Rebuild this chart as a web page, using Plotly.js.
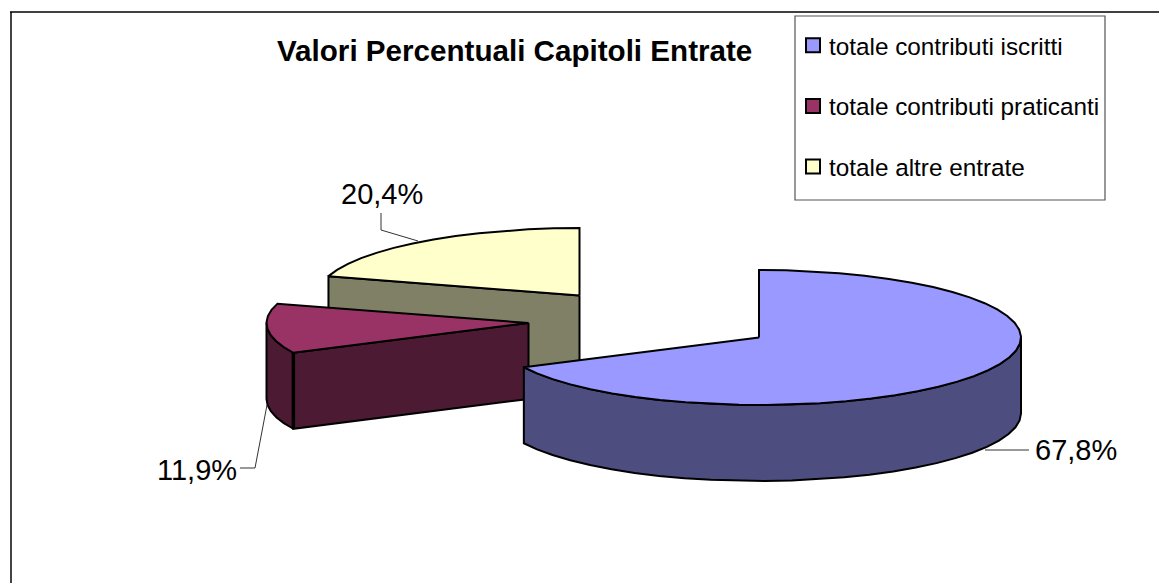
<!DOCTYPE html>
<html><head><meta charset="utf-8">
<script src="https://cdn.plot.ly/plotly-3.0.1.min.js"></script>
<style>html,body{margin:0;padding:0;background:#fff}#c{width:1159px;height:583px}</style></head>
<body><div id="c"></div>
<script>
const categories = ["totale contributi iscritti","totale contributi praticanti","totale altre entrate"];
const percentValues = [67.8, 11.9, 20.4];
const topColors = ["#9999FF","#993366","#FFFFCC"];
const sideColors = ["#4D4D80","#4D1A33","#808066"];
const titleText = "Valori Percentuali Capitoli Entrate";

// 3-D pie projection (pixel-like data space of the hidden axes)
const RX = 262, RY = 67.5, DEPTH = 76;
const centers = [[759,337.5],[528.5,323],[579.5,295.5]];
const total = percentValues.reduce((a,b)=>a+b,0);
let acc = 0;
const spans = percentValues.map(v=>{const s=acc; acc+=v/total*360; return [s,acc];});

function rim(c,deg){const r=deg*Math.PI/180;return [c[0]+RX*Math.sin(r), c[1]-RY*Math.cos(r)];}
function arc(c,a,b){
  const n=Math.max(2,Math.ceil(Math.abs(b-a)/6)); const p=[];
  for(let i=0;i<=n;i++) p.push(rim(c,a+(b-a)*i/n));
  return p;
}
function poly(pts,fill){
  return {type:"scatter",mode:"lines",x:pts.map(p=>p[0]).concat(pts[0][0]),y:pts.map(p=>p[1]).concat(pts[0][1]),
    fill:"toself",fillcolor:fill,line:{color:"#000",width:2},hoverinfo:"skip",showlegend:false};
}
const down=p=>[p[0],p[1]+DEPTH];
function wall(c,a,b,fill){const t=arc(c,a,b);return poly(t.concat(t.slice().reverse().map(down)),fill);}
function radial(c,deg,fill){const r=rim(c,deg);return poly([c,r,down(r),down(c)],fill);}

const traces=[];
// yellow (back)
traces.push(radial(centers[2],spans[2][0],sideColors[2]));
traces.push(poly([centers[2]].concat(arc(centers[2],spans[2][0],spans[2][1])),topColors[2]));
// maroon
traces.push(wall(centers[1],spans[1][0],270,sideColors[1]));
traces.push(radial(centers[1],spans[1][0],sideColors[1]));
traces.push(poly([centers[1]].concat(arc(centers[1],spans[1][0],spans[1][1])),topColors[1]));
// heavier corner edge on the maroon slice
const mc=rim(centers[1],spans[1][0]);
traces.push({type:"scatter",mode:"lines",x:[mc[0],mc[0]],y:[mc[1],mc[1]+DEPTH],line:{color:"#000",width:3.5},hoverinfo:"skip",showlegend:false});
// blue (front)
traces.push(wall(centers[0],90,spans[0][1],sideColors[0]));
traces.push(poly([centers[0]].concat(arc(centers[0],spans[0][0],spans[0][1])),topColors[0]));

// leader lines
function leader(xs,ys){return {type:"scatter",mode:"lines",x:xs,y:ys,line:{color:"#333",width:1},hoverinfo:"skip",showlegend:false};}
traces.push(leader([381,381,418],[213,230,241]));
traces.push(leader([240,255,267],[468,468,405]));
traces.push(leader([985,1029],[450,450]));

// legend entries
categories.forEach((name,i)=>traces.push({type:"scatter",mode:"markers",x:[null],y:[null],name,legendgroup:"g"+i,
  marker:{symbol:"square",size:14,color:topColors[i],line:{color:"#000",width:2}}}));

const FONT="Liberation Sans, Arial, sans-serif";
const fmt=v=>v.toFixed(1).replace(".",",")+"%";
const labelPos=[[1076,450],[197,470],[382,194]];
const annotations=percentValues.map((v,i)=>({xref:"x",yref:"y",x:labelPos[i][0],y:labelPos[i][1],text:fmt(v),showarrow:false,
  font:{family:FONT,size:29,color:"#000"},xanchor:"center",yanchor:"middle"}));
annotations.push({xref:"x",yref:"y",x:514.5,y:50,text:"<b>"+titleText+"</b>",showarrow:false,
  font:{family:FONT,size:29.6,color:"#000"},xanchor:"center",yanchor:"middle"});

const layout={
  width:1159,height:583,margin:{l:0,r:0,t:0,b:0},paper_bgcolor:"#fff",plot_bgcolor:"#fff",
  xaxis:{range:[0,1159],visible:false,fixedrange:true},
  yaxis:{range:[583,0],visible:false,fixedrange:true},
  annotations,
  shapes:[
    {type:"line",xref:"x",yref:"y",x0:11,x1:11,y0:12,y1:583,line:{color:"#444",width:2}},
    {type:"line",xref:"x",yref:"y",x0:10,x1:1159,y0:12,y1:12,line:{color:"#000",width:1.5}},
    {type:"rect",xref:"x",yref:"y",x0:795,x1:1105,y0:16,y1:200,line:{color:"#555",width:1.2}}
  ],
  showlegend:true,
  legend:{x:793/1159,y:1-23/583,xanchor:"left",yanchor:"top",bgcolor:"rgba(0,0,0,0)",borderwidth:0,
    traceorder:"grouped",tracegroupgap:26,font:{family:FONT,size:24.3,color:"#000"}}
};
Plotly.newPlot("c",traces,layout,{displayModeBar:false,staticPlot:true}).then(()=>{
  document.querySelectorAll("#c .legend text.legendtext").forEach(t=>t.setAttribute("transform","translate(-4,0)"));
});
</script></body></html>
